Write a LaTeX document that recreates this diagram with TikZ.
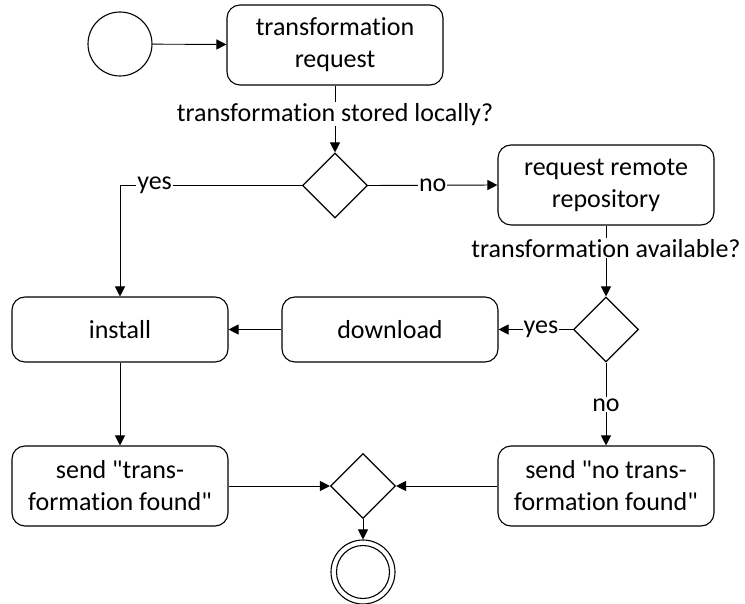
\documentclass[tikz,border=0pt]{standalone}
\usepackage{fontspec}
\setmainfont{Carlito}[Ligatures={NoCommon}]
\newfontfamily\quotefont{Carlito}[Ligatures={NoCommon}]
\newcommand{\sq}{{\quotefont\char34}}
\usetikzlibrary{shapes.geometric,arrows.meta}
\begin{document}
\begin{tikzpicture}[x=1pt,y=-1pt,
  every node/.style={font=\fontsize{26}{32}\selectfont},
  act/.style={draw,line width=1.1pt,rounded corners=13pt,minimum width=216pt,align=center,inner sep=0pt},
  tall/.style={minimum height=80pt},
  short/.style={minimum height=65pt},
  dec/.style={draw,line width=1.1pt,diamond,minimum width=65pt,minimum height=65pt,inner sep=0pt,shape aspect=1},
  flow/.style={line width=0.9pt,-{Triangle[length=10pt,width=10pt]}},
  lbl/.style={fill=white,inner sep=1pt}
]
\useasboundingbox (0,0) rectangle (745,604);
\node[draw,line width=1.1pt,circle,minimum size=64pt,inner sep=0pt] (start) at (120,44) {};
\node[act,tall] (req) at (335,45) {transformation\\request};
\node[dec] (d1) at (335,185.5) {};
\node[act,tall] (remote) at (606,185) {request remote\\repository};
\node[dec] (d2) at (606,329.5) {};
\node[act,short] (download) at (390,329.5) {download};
\node[act,short] (install) at (120,329.5) {install};
\node[act,tall] (sendF) at (120,486) {send \sq trans-\\formation found\sq};
\node[act,tall] (sendN) at (606,486) {send \sq no trans-\\formation found\sq};
\node[dec] (d3) at (363,486) {};
\node[draw,line width=1.1pt,circle,minimum size=64pt,inner sep=0pt] (endo) at (363,572) {};
\node[draw,line width=1.1pt,circle,minimum size=53pt,inner sep=0pt] (endi) at (363,572) {};

\draw[flow] (start) -- (req);
\draw[flow] (req.south) -- node[lbl,pos=0.43] (q1) {transformation stored locally?} (d1.north);
\draw[flow] (d1.east) -- node[lbl] (no1) {no} (remote.west);
\draw[flow] (d1.west) -- node[lbl,pos=0.81] (yes1) {yes} (120,185.5) -- (install.north);
\draw[flow] (remote.south) -- node[lbl,pos=0.32] (q2) {transformation available?} (d2.north);
\draw[flow] (d2.west) -- node[lbl,pos=0.43] (yes2) {yes} (download.east);
\draw[flow] (download.west) -- (install.east);
\draw[flow] (d2.south) -- node[lbl,pos=0.51] (no2) {no} (sendN.north);
\draw[flow] (install.south) -- (sendF.north);
\draw[flow] (sendF.east) -- (d3.west);
\draw[flow] (sendN.west) -- (d3.east);
\draw[flow] (d3.south) -- (endo.north);
\end{tikzpicture}
\end{document}
